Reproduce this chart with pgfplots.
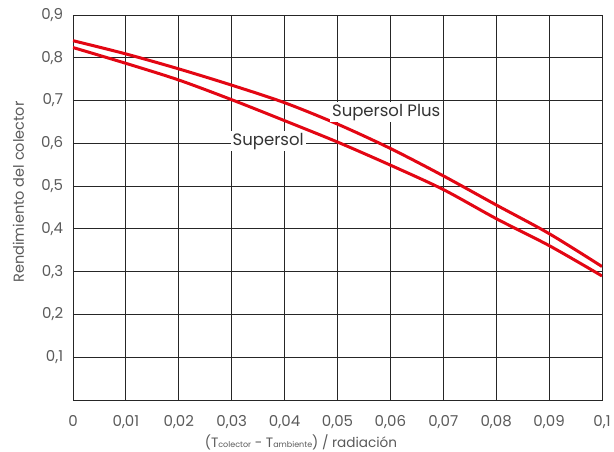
\documentclass[border=0pt]{standalone}
\usepackage{pgfplots}
\pgfplotsset{compat=1.18}
\usepackage{fontspec}
\setmainfont{Poppins}
\definecolor{curvered}{HTML}{E30613}
\definecolor{txtgray}{HTML}{5A5A5A}
\begin{document}
\fontsize{14bp}{16bp}\selectfont
\begin{tikzpicture}
\begin{axis}[
    scale only axis,
    width=529bp, height=385bp,
    xmin=0, xmax=0.1, ymin=0, ymax=0.9,
    xtick={0,0.01,0.02,0.03,0.04,0.05,0.06,0.07,0.08,0.09,0.1},
    xticklabels={0,{0,01},{0,02},{0,03},{0,04},{0,05},{0,06},{0,07},{0,08},{0,09},{0,1}},
    ytick={0.1,0.2,0.3,0.4,0.5,0.6,0.7,0.8,0.9},
    yticklabels={{0,1},{0,2},{0,3},{0,4},{0,5},{0,6},{0,7},{0,8},{0,9}},
    major tick length=0pt,
    grid=major,
    grid style={black!85, line width=0.9bp},
    axis line style={black!85, line width=0.9bp},
    tick label style={txtgray, font=\fontsize{15bp}{17bp}\selectfont},
    xticklabel style={yshift=-11bp},
    yticklabel style={xshift=-5bp},
    xlabel={(T{\fontsize{8bp}{9bp}\selectfont colector} - T{\fontsize{8bp}{9bp}\selectfont ambiente}) / radiación},
    ylabel={Rendimiento del colector},
    xlabel style={txtgray, font=\fontsize{13.6bp}{15bp}\selectfont, at={(axis description cs:0.431,-0.109)}, anchor=center},
    ylabel style={txtgray, font=\fontsize{14.5bp}{16bp}\selectfont, at={(axis description cs:-0.103,0.54)}, anchor=center},
]
\addplot[curvered, line width=3bp, smooth] coordinates {
(0,0.840) (0.01,0.809) (0.02,0.774) (0.03,0.736) (0.04,0.695) (0.05,0.645)
(0.06,0.588) (0.07,0.524) (0.08,0.456) (0.09,0.389) (0.1,0.312)};
\addplot[curvered, line width=3bp, smooth] coordinates {
(0,0.824) (0.01,0.787) (0.02,0.748) (0.03,0.702) (0.04,0.653) (0.05,0.603)
(0.06,0.549) (0.07,0.492) (0.08,0.424) (0.09,0.361) (0.1,0.290)};
\node[fill=white, inner sep=2bp, text=black!80, font=\fontsize{16.5bp}{18bp}\selectfont] at (axis cs:0.0592,0.673) {Supersol Plus};
\node[fill=white, inner sep=2bp, text=black!80, font=\fontsize{16.5bp}{18bp}\selectfont] at (axis cs:0.0369,0.605) {Supersol};
\end{axis}
\pgfresetboundingbox
\path (-73bp,-52bp) rectangle (541bp,400bp);
\end{tikzpicture}
\end{document}
